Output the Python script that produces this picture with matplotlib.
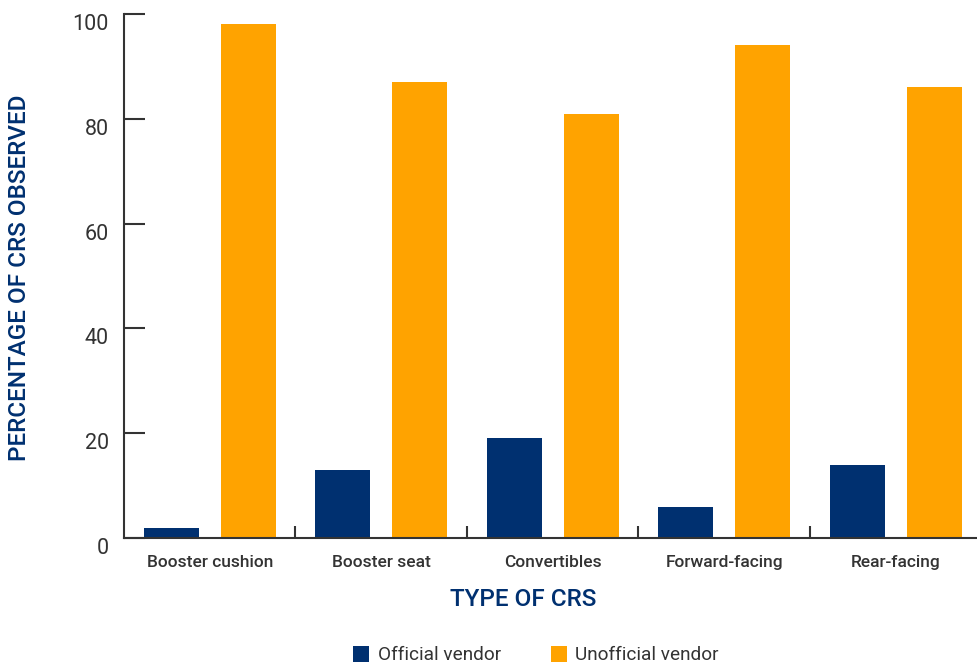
import matplotlib
matplotlib.use("Agg")
import matplotlib.pyplot as plt
import numpy as np

# CRS types and share observed per vendor type (%)
categories = ["Booster cushion", "Booster seat", "Convertibles",
              "Forward-facing", "Rear-facing"]
official = [2, 13, 19, 6, 14]
unofficial = [98, 87, 81, 94, 86]
series_names = ["Official vendor", "Unofficial vendor"]
y_ticks = [0, 20, 40, 60, 80, 100]

NAVY = "#003070"
ORANGE = "#FFA300"
GREY = "#333333"

plt.rcParams["font.family"] = ["Roboto", "DejaVu Sans"]

fig = plt.figure(figsize=(9.78, 6.63), dpi=100)
ax = fig.add_axes([124 / 978, 1 - 538 / 663, 1 - 124 / 978, (538 - 14) / 663])

x = np.arange(len(categories))
w = 0.32
off = 0.224
ax.bar(x - off, official, w, color=NAVY, label=series_names[0], zorder=2)
ax.bar(x + off, unofficial, w, color=ORANGE, label=series_names[1], zorder=2)

ax.set_xlim(-0.5, 4.48)
ax.set_ylim(0, 100)

for s in ["top", "right"]:
    ax.spines[s].set_visible(False)
for s in ["left", "bottom"]:
    ax.spines[s].set_color(GREY)
    ax.spines[s].set_linewidth(1.5)

ax.set_yticks(y_ticks)
ax.set_yticklabels([str(v) for v in y_ticks])
ax.tick_params(axis="y", direction="in", length=15, width=1.5, color=GREY,
               labelsize=15.5, labelcolor=GREY, pad=11)
for lbl in ax.get_yticklabels():
    lbl.set_va("top")

ax.set_xticks(x)
ax.set_xticklabels(categories, fontweight="medium")
ax.tick_params(axis="x", which="major", length=0, labelsize=12.5,
               labelcolor=GREY, pad=12)
ax.set_xticks(x[:-1] + 0.5, minor=True)
ax.tick_params(axis="x", which="minor", direction="in", length=9, width=1.5,
               color=GREY)

fig.text(20 / 978, 1 - 278 / 663, "PERCENTAGE OF CRS OBSERVED", rotation=90,
         ha="center", va="center", color=NAVY, fontsize=17.5, fontweight="medium")
fig.text(523 / 978, 1 - 600 / 663, "TYPE OF CRS", ha="center", va="center",
         color=NAVY, fontsize=17.5, fontweight="medium")

fig.legend(loc="center", bbox_to_anchor=(536 / 978, 1 - 655 / 663), ncol=2,
           frameon=False, prop={"size": 13.7},
           handlelength=0.85, handleheight=0.9,
           columnspacing=2.6, handletextpad=0.45, labelcolor=GREY)

fig.savefig("out.png", dpi=100)
